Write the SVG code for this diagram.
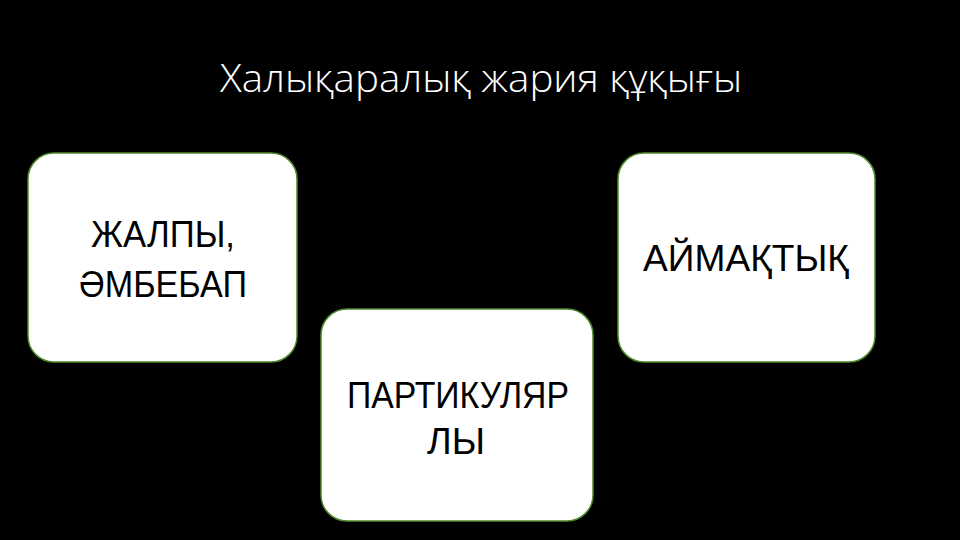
<svg xmlns="http://www.w3.org/2000/svg" width="960" height="540" viewBox="0 0 960 540">
<style>
.title{font-family:"Open Sans","Noto Sans",sans-serif;font-weight:300;font-size:38px;fill:#ffffff;text-anchor:middle}
.box{fill:#ffffff;stroke:#4f8a2c;stroke-width:1.5}
.lbl{font-family:"Liberation Sans","Noto Sans",sans-serif;font-size:37px;fill:#000000;text-anchor:middle}
</style>
<rect x="0" y="0" width="960" height="540" fill="#000000"/>
<text class="title" x="481" y="92" textLength="522" lengthAdjust="spacingAndGlyphs">Халықаралық жария құқығы</text>
<g id="connectors"></g>
<g id="node-zhalpy">
<rect class="box" x="28" y="153" width="269" height="209" rx="26" ry="26"/>
<text class="lbl" x="163" y="247" textLength="144" lengthAdjust="spacingAndGlyphs">ЖАЛПЫ,</text>
<text class="lbl" x="163" y="297" textLength="168" lengthAdjust="spacingAndGlyphs">ӘМБЕБАП</text>
</g>
<g id="node-aimaqtyq">
<rect class="box" x="618" y="153" width="257" height="209" rx="26" ry="26"/>
<text class="lbl" x="746" y="271" textLength="206" lengthAdjust="spacingAndGlyphs">АЙМАҚТЫҚ</text>
</g>
<g id="node-partikulyar">
<rect class="box" x="321" y="309" width="272" height="212" rx="26" ry="26"/>
<text class="lbl" x="458" y="408" textLength="222" lengthAdjust="spacingAndGlyphs">ПАРТИКУЛЯР</text>
<text class="lbl" x="456" y="454" textLength="58" lengthAdjust="spacingAndGlyphs">ЛЫ</text>
</g>
</svg>
